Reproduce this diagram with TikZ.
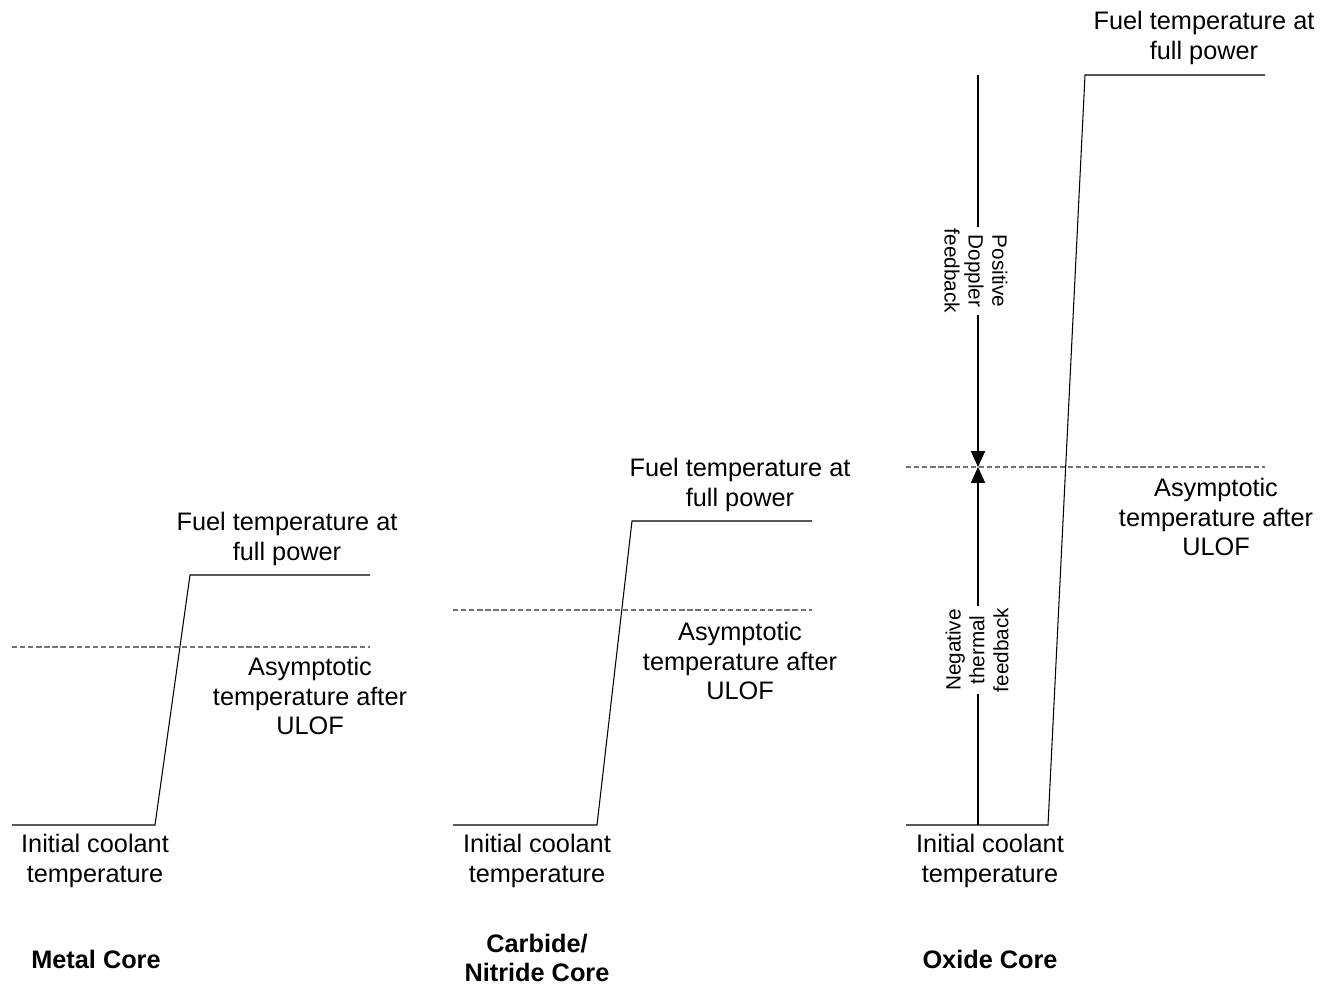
\documentclass[tikz,border=0pt]{standalone}
\usepackage{fontspec}
\setmainfont{Liberation Sans}
\usetikzlibrary{arrows.meta}
\begin{document}
\begin{tikzpicture}[x=0.02cm,y=-0.02cm,
  curve/.style={draw=black, line width=0.6pt},
  asym/.style={draw=black!55, line width=0.6pt, dash pattern=on 3pt off 1.6pt},
  lbl/.style={align=center, font=\fontsize{14.4}{17}\selectfont, inner sep=1pt},
  ttl/.style={align=center, font=\fontsize{14.4}{17}\selectfont\bfseries, inner sep=1pt},
  vlbl/.style={align=center, font=\fontsize{11.8}{13.6}\selectfont, inner sep=1pt, fill=white},
  fb/.style={draw=black, line width=0.6pt, -{Triangle[length=9pt,width=8pt]}}
]
\useasboundingbox (0,0) rectangle (1321,987);
% Metal core
\coordinate (m0) at (12,825); \coordinate (m1) at (155,825);
\coordinate (m2) at (190,575); \coordinate (m3) at (370,575);
\coordinate (md0) at (12,647); \coordinate (md1) at (370,647);
\draw[curve] (m0) -- (m1) -- (m2) -- (m3);
\draw[asym] (md0) -- (md1);
\node[lbl] (mfuel) at (287,539) {Fuel temperature at\\full power};
\node[lbl] (masym) at (310,696) {Asymptotic\\temperature after\\ULOF};
\node[lbl] (minit) at (95,861) {Initial coolant\\temperature};
\node[ttl] (mtitle) at (96,959) {Metal Core};
% Carbide core
\coordinate (c0) at (453,825); \coordinate (c1) at (597,825);
\coordinate (c2) at (632,521); \coordinate (c3) at (812,521);
\coordinate (cd0) at (453,610); \coordinate (cd1) at (812,610);
\draw[curve] (c0) -- (c1) -- (c2) -- (c3);
\draw[asym] (cd0) -- (cd1);
\node[lbl] (cfuel) at (740,485) {Fuel temperature at\\full power};
\node[lbl] (casym) at (740,661) {Asymptotic\\temperature after\\ULOF};
\node[lbl] (cinit) at (537,861) {Initial coolant\\temperature};
\node[ttl] (ctitle) at (537,958) {Carbide/\\Nitride Core};
% Oxide core
\coordinate (o0) at (906,825); \coordinate (o1) at (1048,825);
\coordinate (o2) at (1085,75); \coordinate (o3) at (1265,75);
\coordinate (od0) at (906,467); \coordinate (od1) at (1265,467);
\coordinate (vtop) at (978,75); \coordinate (vbot) at (978,825);
\coordinate (vmid) at (978,467);
\draw[curve] (o0) -- (o1) -- (o2) -- (o3);
\draw[asym] (od0) -- (od1);
\draw[fb] (vtop) -- (vmid);
\draw[fb] (vbot) -- (vmid);
\node[vlbl, rotate=-90] (pos) at (976,271) {Positive\\Doppler\\feedback};
\node[vlbl, rotate=90] (neg) at (977,650) {Negative\\thermal\\feedback};
\node[lbl] (ofuel) at (1204,38) {Fuel temperature at\\full power};
\node[lbl] (oasym) at (1216,517) {Asymptotic\\temperature after\\ULOF};
\node[lbl] (oinit) at (990,861) {Initial coolant\\temperature};
\node[ttl] (otitle) at (990,959) {Oxide Core};
\end{tikzpicture}
\end{document}
